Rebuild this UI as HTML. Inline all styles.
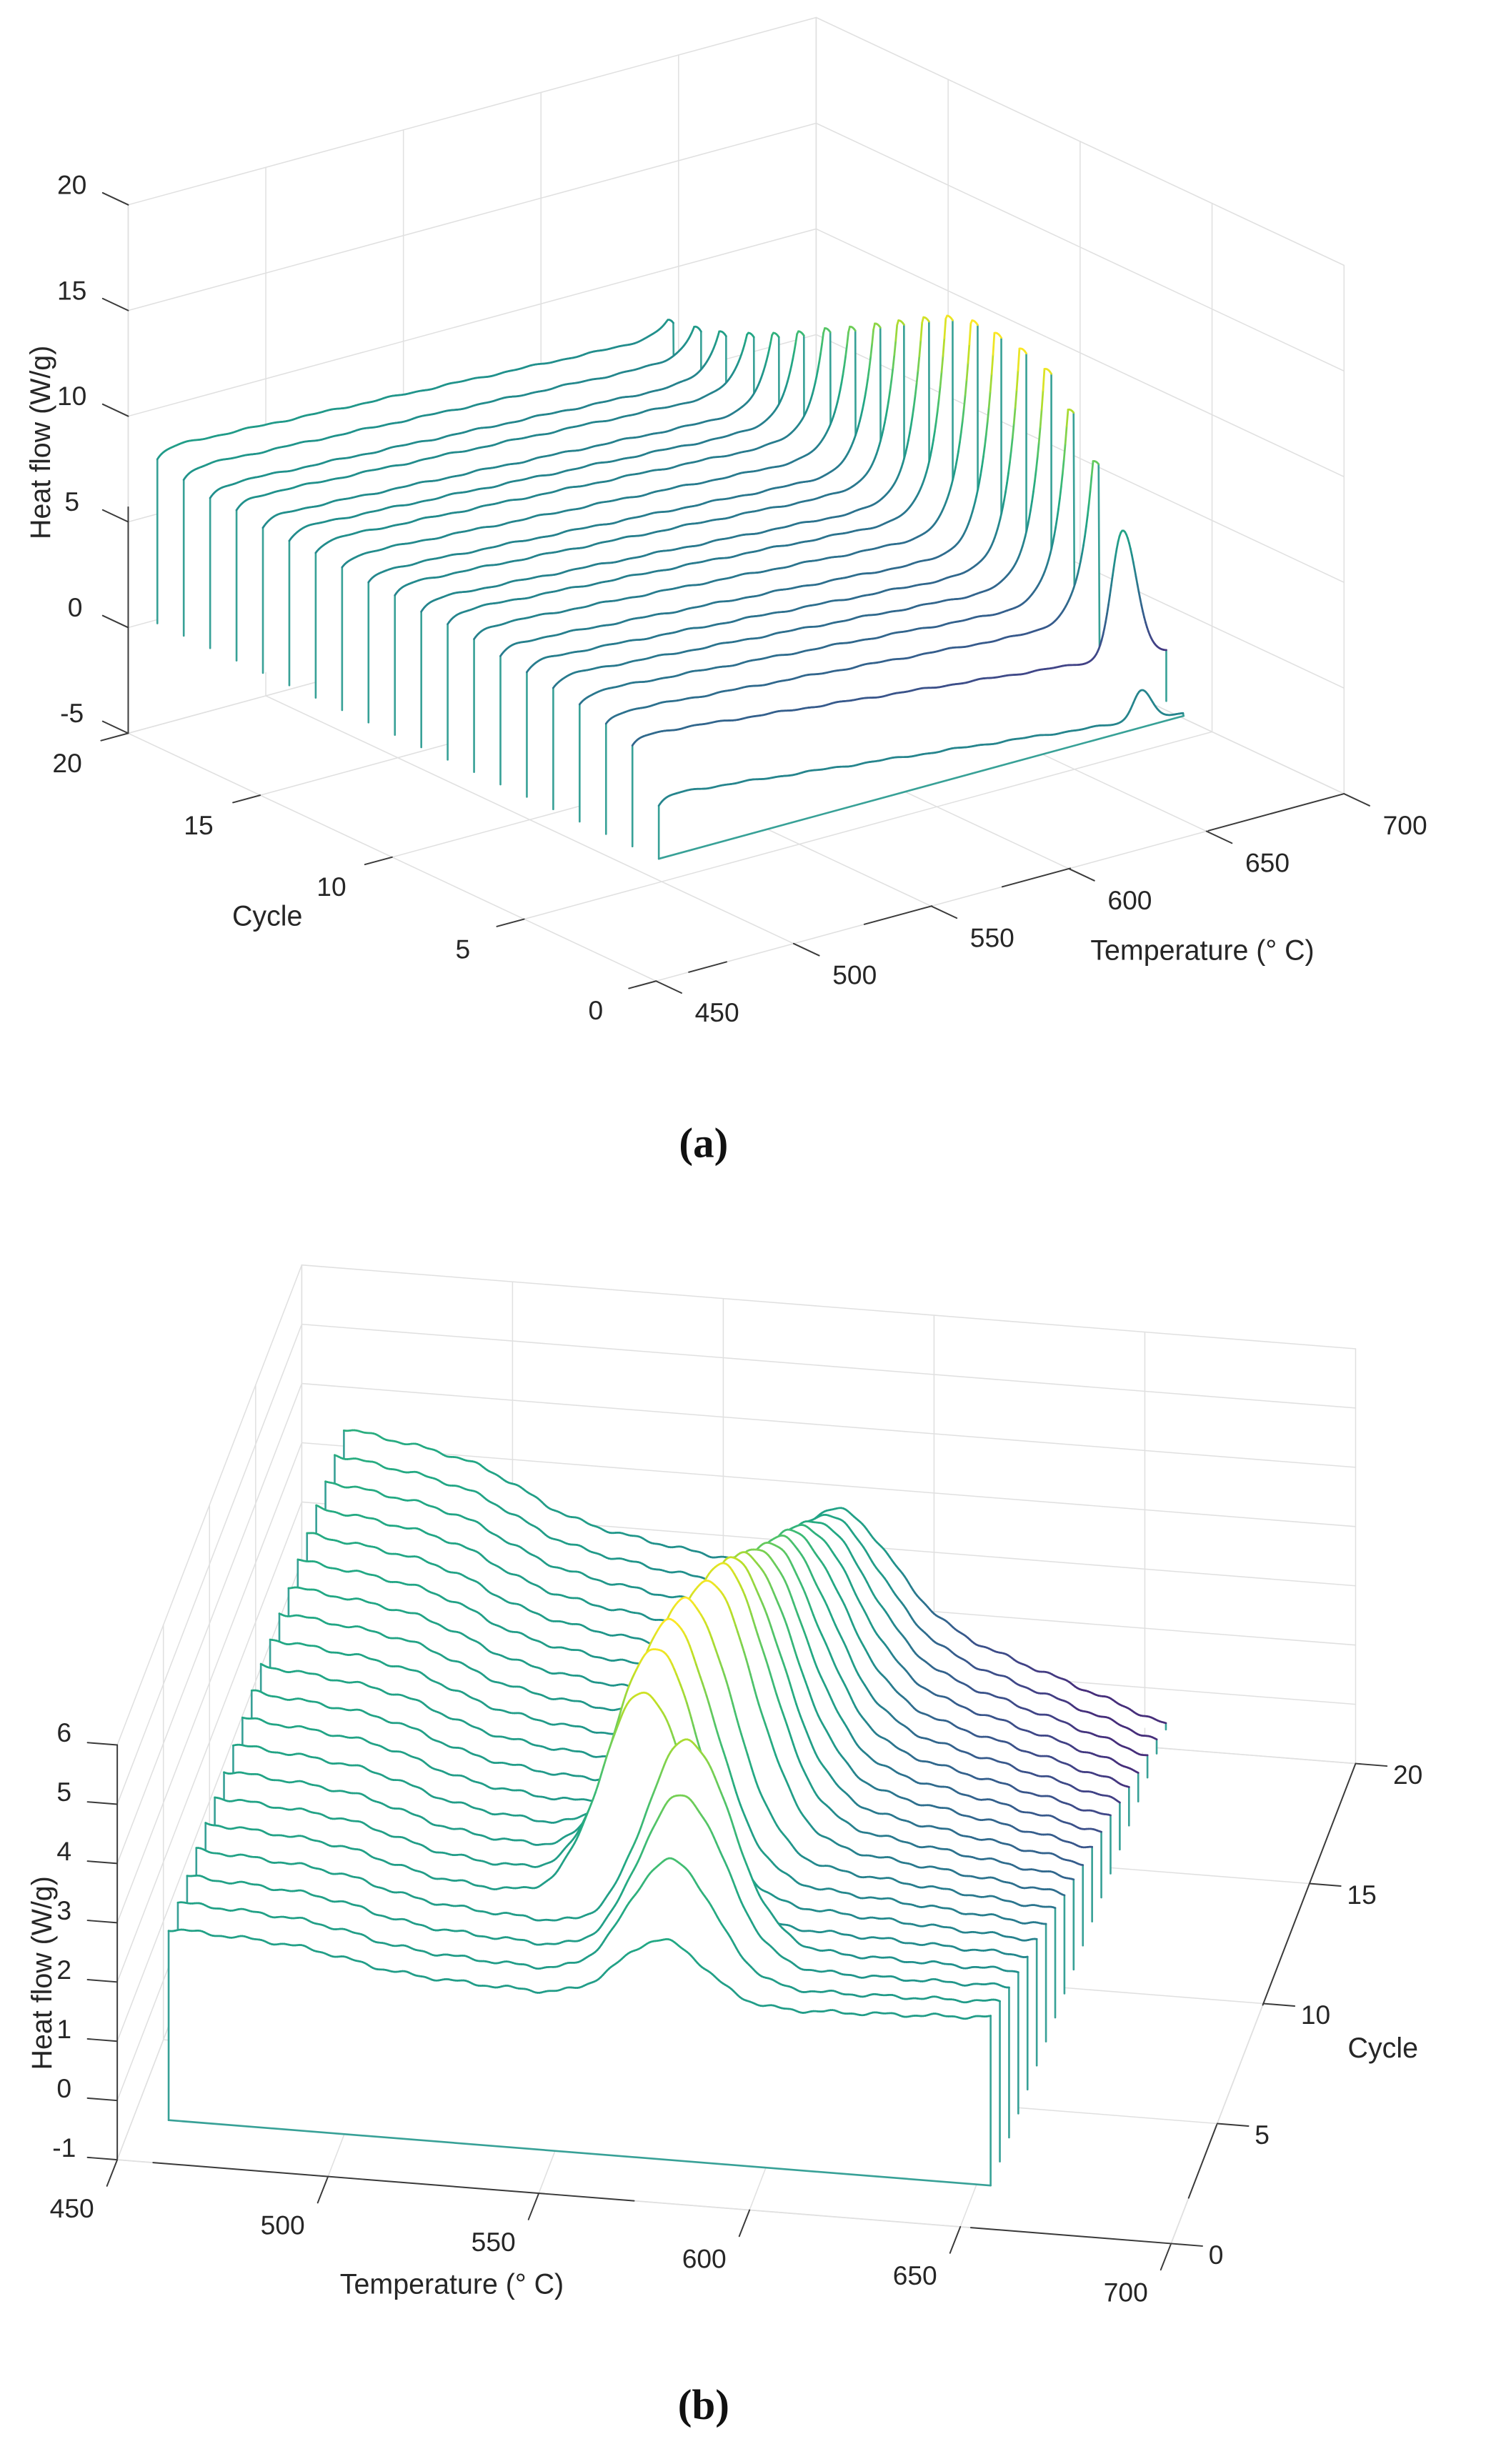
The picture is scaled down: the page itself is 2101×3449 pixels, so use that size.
<!DOCTYPE html>
<html><head><meta charset="utf-8">
<style>html,body{margin:0;padding:0;background:#fff}svg{display:block}</style>
</head><body>
<svg id="s" width="2101" height="3449" viewBox="0 0 960 1576" preserveAspectRatio="none" xmlns="http://www.w3.org/2000/svg">
<g id="g"></g>
<g font-family="Liberation Sans, Arial, sans-serif" font-size="17" fill="#262626">
<g text-anchor="middle">
<text x="46" y="124">20</text><text x="46" y="191.6">15</text><text x="46" y="259.2">10</text>
<text x="46" y="326.8">5</text><text x="48" y="394.4">0</text><text x="46" y="462">-5</text>
<text x="381" y="652">0</text><text x="296" y="613">5</text><text x="212" y="573">10</text>
<text x="127" y="533.6">15</text><text x="43" y="494">20</text>
<text x="458.6" y="653.5">450</text><text x="546.6" y="629.5">500</text><text x="634.6" y="605.6">550</text>
<text x="722.6" y="581.6">600</text><text x="810.6" y="557.7">650</text><text x="898.6" y="533.7">700</text>
<text x="171" y="592" font-size="18">Cycle</text>
<text x="769" y="614" font-size="18">Temperature (° C)</text>
<text x="0" y="0" font-size="18" transform="translate(32,283) rotate(-90)">Heat flow (W/g)</text>
<text x="41" y="1379.4">-1</text><text x="41" y="1341.5">0</text><text x="41" y="1303.6">1</text>
<text x="41" y="1265.7">2</text><text x="41" y="1227.8">3</text><text x="41" y="1189.9">4</text>
<text x="41" y="1152">5</text><text x="41" y="1114.1">6</text>
<text x="46" y="1418.4">450</text><text x="180.8" y="1429.1">500</text><text x="315.6" y="1439.8">550</text>
<text x="450.4" y="1450.6">600</text><text x="585.2" y="1461.3">650</text><text x="720" y="1472">700</text>
<text x="289" y="1467" font-size="18">Temperature (° C)</text>
<text x="0" y="0" font-size="18" transform="translate(33,1262) rotate(-90)">Heat flow (W/g)</text>
</g>
<g text-anchor="start">
<text x="773" y="1448">0</text><text x="802.5" y="1371.3">5</text><text x="832" y="1294.5">10</text>
<text x="861.5" y="1217.8">15</text><text x="891" y="1141">20</text>
<text x="862" y="1316" font-size="18">Cycle</text>
</g>
</g>
<g font-family="Liberation Serif, serif" font-weight="bold" font-size="27" fill="#111" text-anchor="middle">
<text x="450" y="740">(a)</text>
<text x="450" y="1547">(b)</text>
</g>
</svg>
<script>
(function(){
var o='';
var GR='#e0e0e0', DK='#3a3a3a', TEAL='#38a197';
function f2(v){return v.toFixed(2);}
function ln(a,b,c,w){o+='<line x1="'+f2(a[0])+'" y1="'+f2(a[1])+'" x2="'+f2(b[0])+'" y2="'+f2(b[1])+'" stroke="'+c+'" stroke-width="'+w+'" stroke-linecap="round"/>';}
function add(p,d){return [p[0]+d[0],p[1]+d[1]];}
var VS=[[68,1,84],[72,36,117],[65,68,135],[53,95,141],[42,120,142],[33,145,140],[34,168,132],[68,191,112],[122,209,81],[189,223,38],[253,231,37]];
function vir(t){t=Math.max(0,Math.min(1,t))*10;var i=Math.min(9,Math.floor(t)),f=t-i,a=VS[i],b=VS[i+1];
return 'rgb('+Math.round(a[0]+(b[0]-a[0])*f)+','+Math.round(a[1]+(b[1]-a[1])*f)+','+Math.round(a[2]+(b[2]-a[2])*f)+')';}
function series(pts,zs,tfn,b0,b1,front){
  var poly=pts.concat([b1,b0]);
  o+='<polygon points="'+poly.map(function(p){return f2(p[0])+','+f2(p[1]);}).join(' ')+'" fill="#fff" stroke="none"/>';
  ln(b0,pts[0],TEAL,1.2); ln(b1,pts[pts.length-1],TEAL,1.2);
  if(front) ln(b0,b1,TEAL,1.2);
  for(var k=0;k<pts.length-1;k++) ln(pts[k],pts[k+1],vir(tfn((zs[k]+zs[k+1])/2)),1.25);
}
function PA(T,c,z){return [419.6+(T-450)*1.76-16.88*c, 627.5-(T-450)*0.4792-7.925*c-(z+5)*13.52];}
var z,T,c,i;
for(z=-5;z<=20;z+=5){ln(PA(450,20,z),PA(700,20,z),GR,0.7); ln(PA(700,20,z),PA(700,0,z),GR,0.7);}
for(T=450;T<=700;T+=50){ln(PA(T,20,-5),PA(T,20,20),GR,0.7); ln(PA(T,0,-5),PA(T,20,-5),GR,0.7);}
for(c=0;c<=20;c+=5){ln(PA(700,c,-5),PA(700,c,20),GR,0.7); ln(PA(450,c,-5),PA(700,c,-5),GR,0.7);}
var xp=[730,718,699,683,668,652,636,621,605,590,574,559,543,527,510,494,478,460,444,427];
var yt=[441,340,295,262,236,223,213,205,202,203,205,207,209,210,212,213,213,212,209,204.6];
var h0=[34,64,70,75,78,80,82,85,87,87,89,89,91,93,93,93,96,96,100,105];
var zb=0.75;
function ta(z){return 0.5+((z-0.75)*13.52-100)/200;}
function ta0(z){return Math.max(0.45,ta(z)+0.25);}
for(i=19;i>=0;i--){
  var Tp=450+(xp[i]-(419.6-16.88*i))/1.76;
  var zpk=-5+(PA(Tp,i,-5)[1]-yt[i])/13.52;
  var zs=zb+h0[i]/13.52;
  var drop=(i>=2?17+(19-i)*9/17:(i==1?35:36))/13.52;
  var base=(function(zs,drop,Tp,i){return function(T,nn){return zs+0.5*(1-Math.exp(-(T-451)/3))-drop*((T-451)/(Tp-451))+(nn?0:0.03*Math.sin(T*0.25+i*1.3)+0.02*Math.sin(T*0.6+i*0.7));};})(zs,drop,Tp,i);
  var Tend=i>=2?Tp+2.5:(i==1?645:641.7);
  var pts=[],zz=[];
  var Ab=zpk-base(Tp,true);
  for(T=451;T<=Tend+0.001;T+=0.5){
    var v;
    if(i>=2){ if(T<=Tp) v=base(T)+(zpk-base(Tp))*Math.exp(-(Tp-T)/4.8); else v=zpk-0.05*(T-Tp)*(T-Tp);}
    else { var s=T<Tp?(i==1?4:3):(i==1?5:3.5); v=base(T)+Ab*Math.exp(-Math.pow((T-Tp)/s,2)/2);}
    if(v<zb+0.1) v=zb+0.1;
    pts.push(PA(T,i,v)); zz.push(v);
  }
  series(pts,zz,i==0?ta0:ta,PA(451,i,zb),PA(Tend,i,zb),i==0);
}
ln(PA(450,20,-5),PA(450,20,20),GR,0.8);
ln(PA(450,20,-5),PA(450,20,5.7),DK,0.9);
for(z=-5;z<=20;z+=5){var p=PA(450,20,z); ln(p,add(p,[-16.3,-7.65]),DK,0.9);}
for(c=0;c<=20;c+=5){var p=PA(450,c,-5); ln(p,add(p,[-17.4,4.7]),DK,0.9);}
for(T=450;T<=700;T+=50){var p=PA(T,0,-5); ln(p,add(p,[16.3,7.65]),DK,0.9);}
[[461.9,475.6],[525.7,550.2],[575.8,600.5],[650.7,700]].forEach(function(s){ln(PA(s[0],0,-5),PA(s[1],0,-5),DK,0.9);});
function PB(T,c,z){return [75+(T-450)*2.696+5.9*c, 1381.4+(T-450)*0.2144-15.35*c-(z+1)*37.9];}
for(z=-1;z<=6;z++){ln(PB(450,20,z),PB(700,20,z),GR,0.7); ln(PB(450,0,z),PB(450,20,z),GR,0.7);}
for(T=450;T<=700;T+=50){ln(PB(T,20,-1),PB(T,20,6),GR,0.7); ln(PB(T,0,-1),PB(T,20,-1),GR,0.7);}
for(c=0;c<=20;c+=5){ln(PB(450,c,-1),PB(450,c,6),GR,0.7); ln(PB(450,c,-1),PB(700,c,-1),GR,0.7);}
var TpB=[577,577,577.4,576.6,564,564.6,565.8,567.6,570.4];
var zpB=[3.02,3.96,4.65,5.18,5.52,5.86,5.92,5.89,5.82];
var zbB=-0.68;
function tb(z){return z<2?Math.max(0.13,0.55-(2-z)*0.2):0.55+0.45*Math.pow(Math.min(1,(z-2)/3.9),1.6);}
for(c=20;c>=1;c--){
  var Tp=c<=9?TpB[c-1]:571.6+0.65*(c-10);
  var zpk=c<=9?zpB[c-1]:5.69-0.31*(c-10);
  var f=(c-1)/19, s0=2.55+0.75*f, k1=0.003+0.008*f, a=0.3+0.4*f, e=2.16-2.76*f;
  var p1=(function(s0,k1,a){return function(T){return s0-k1*(T-460)-a/(1+Math.exp(-(T-503)/6));};})(s0,k1,a);
  var d2=p1(655)-e;
  var bs=(function(p1,d2,c){return function(T,nn){return p1(T)-(T>550?d2*Math.pow((T-550)/105,1.5):0)+(nn?0:0.025*Math.sin(T*0.5+c)+0.012*Math.sin(T*1.3+3*c));};})(p1,d2,c);
  var A=zpk-bs(Tp,true), sR=10+0.1*c;
  var pts=[],zz=[];
  for(T=460;T<=655.001;T+=0.5){
    var g=T<Tp?Math.exp(-Math.pow((T-Tp)/10,2)/2):Math.exp(-Math.pow((T-Tp)/sR,2)/2);
    var v=bs(T)+A*g; if(v<zbB+0.02)v=zbB+0.02;
    pts.push(PB(T,c,v)); zz.push(v);
  }
  series(pts,zz,tb,PB(460,c,zbB),PB(655,c,zbB),c==1);
}
ln(PB(450,0,-1),PB(450,0,6),DK,0.9);
for(z=-1;z<=6;z++){var p=PB(450,0,z); ln(p,add(p,[-19,-1.5]),DK,0.9);}
ln(PB(450,0,-1),PB(700,0,-1),GR,0.8);
ln(PB(458.5,0,-1),PB(572.6,0,-1),DK,0.9); ln(PB(652.5,0,-1),PB(700,0,-1),DK,0.9);
for(T=450;T<=700;T+=50){var p=PB(T,0,-1); ln(p,add(p,[-6.6,16.8]),DK,0.9);}
ln(PB(700,0,-1),PB(700,20,-1),GR,0.8);
ln(PB(700,9.94,-1),PB(700,20,-1),DK,0.9); ln(PB(700,1.9,-1),PB(700,4.95,-1),DK,0.9);
for(c=0;c<=20;c+=5){var p=PB(700,c,-1); ln(p,add(p,[20,1.6]),DK,0.9);}
document.getElementById('g').innerHTML=o;
})();
</script>
</body></html>
